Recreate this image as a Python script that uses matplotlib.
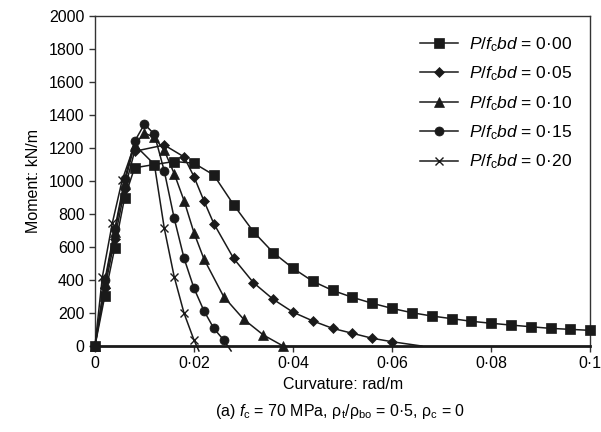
import matplotlib
matplotlib.use("Agg")
import matplotlib.pyplot as plt
from matplotlib.ticker import FuncFormatter, MultipleLocator

plt.rcParams["font.family"] = "Liberation Sans"
plt.rcParams["mathtext.fontset"] = "custom"
plt.rcParams["mathtext.rm"] = "Liberation Sans"
plt.rcParams["mathtext.it"] = "Liberation Sans:italic"

# curvature (rad/m) and moment (kN/m)
x_000 = [0, 0.002, 0.004, 0.006, 0.008, 0.012, 0.016, 0.020, 0.024, 0.028,
         0.032, 0.036, 0.040, 0.044, 0.048, 0.052, 0.056, 0.060, 0.064, 0.068,
         0.072, 0.076, 0.080, 0.084, 0.088, 0.092, 0.096, 0.100]
m_000 = [0, 305, 595, 900, 1080, 1100, 1118, 1108, 1036, 856,
         693, 566, 471, 392, 337, 295, 259, 228, 202, 182,
         166, 150, 138, 127, 117, 107, 101, 95]

x_005 = [0, 0.002, 0.004, 0.006, 0.008, 0.014, 0.018, 0.020, 0.022, 0.024,
         0.028, 0.032, 0.036, 0.040, 0.044, 0.048, 0.052, 0.056, 0.060, 0.066]
m_005 = [0, 350, 650, 950, 1180, 1218, 1146, 1026, 880, 742,
         531, 384, 283, 205, 152, 107, 77, 47, 26, 0]

x_010 = [0, 0.002, 0.004, 0.006, 0.008, 0.010, 0.012, 0.014, 0.016, 0.018,
         0.020, 0.022, 0.026, 0.030, 0.034, 0.038]
m_010 = [0, 380, 690, 990, 1220, 1290, 1265, 1185, 1045, 880,
         686, 528, 299, 163, 67, 0]

x_015 = [0, 0.002, 0.004, 0.006, 0.008, 0.010, 0.012, 0.014, 0.016, 0.018,
         0.020, 0.022, 0.024, 0.026, 0.0275]
m_015 = [0, 400, 710, 1010, 1240, 1345, 1283, 1060, 774, 531,
         350, 214, 107, 36, -30]

x_020 = [0, 0.0015, 0.0035, 0.0055, 0.008, 0.012, 0.014, 0.016, 0.018, 0.020, 0.021]
m_020 = [0, 420, 744, 1006, 1220, 1100, 713, 420, 198, 36, -30]

series = [
    (x_000, m_000, "s", "0·00", 6.5),
    (x_005, m_005, "D", "0·05", 5),
    (x_010, m_010, "^", "0·10", 6.5),
    (x_015, m_015, "o", "0·15", 6.5),
    (x_020, m_020, "x", "0·20", 6),
]

fig = plt.figure(figsize=(6.01, 4.32), dpi=100)
ax = fig.add_axes([0.158, 0.199, 0.824, 0.764])

for xs, ms, mk, lab, size in series:
    # last points that run onto / under the axis carry no marker
    n = len(xs)
    if ms[-1] < 0 or lab == "0·05":
        every = list(range(n - 1))
    else:
        every = list(range(n))
    ax.plot(xs, ms, color="#1a1a1a", lw=1.1, marker=mk, markersize=size,
            markeredgewidth=1.0 if mk == "x" else 0.5, markevery=every,
            clip_on=False, zorder=3,
            label=r"$P/f_{\rm c}bd$ = " + lab)

ax.set_xlim(0, 0.1)
ax.set_ylim(0, 2000)
ax.xaxis.set_major_locator(MultipleLocator(0.02))
ax.yaxis.set_major_locator(MultipleLocator(200))


def dot_fmt(v, pos):
    if abs(v) < 1e-12:
        return "0"
    s = f"{v:.2f}".rstrip("0")
    return s.replace(".", "·")


ax.xaxis.set_major_formatter(FuncFormatter(dot_fmt))
ax.tick_params(axis="both", direction="out", length=4, width=1, labelsize=11.5,
               color="#333333")
for sp in ax.spines.values():
    sp.set_color("#333333")
    sp.set_linewidth(1)
ax.spines["bottom"].set_linewidth(2)
ax.spines["bottom"].set_color("#1a1a1a")

ax.set_ylabel("Moment: kN/m", fontsize=11.5, labelpad=6)
ax.set_xlabel("Curvature: rad/m", fontsize=11.5, labelpad=4)

fig.text(0.566, 0.047, r"(a) $f_{\rm c}$ = 70 MPa, $\rm\rho_t/\rho_{bo}$ = 0·5, $\rm\rho_c$ = 0",
         ha="center", va="center", fontsize=11.5)

ax.legend(loc="upper right", bbox_to_anchor=(0.994, 0.99), frameon=False,
          fontsize=12.5, handlelength=2.2, labelspacing=0.62, handletextpad=0.6)

fig.savefig("out.png", dpi=100)
